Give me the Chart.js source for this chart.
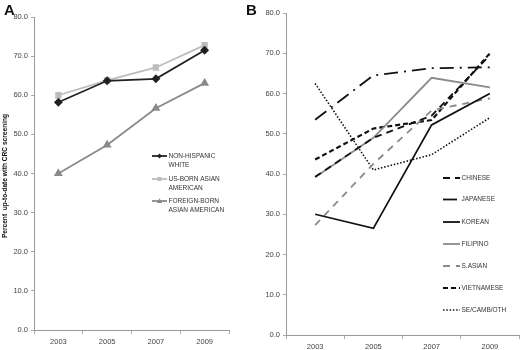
<!DOCTYPE html>
<html><head><meta charset="utf-8">
<script src="https://cdn.jsdelivr.net/npm/chart.js@4.4.0/dist/chart.umd.min.js"></script>
<style>
html,body{margin:0;padding:0;background:#fff;width:520px;height:350px;overflow:hidden;}
.wrap{position:absolute;top:0;height:350px;}
.lbl{position:absolute;font-family:"Liberation Sans",Arial,sans-serif;font-weight:bold;font-size:15px;color:#111;}
</style></head><body>
<div class="wrap" style="left:0;width:260px"><canvas id="ca"></canvas></div>
<div class="wrap" style="left:260px;width:260px"><canvas id="cb"></canvas></div>
<div class="lbl" style="left:4px;top:1px">A</div>
<div class="lbl" style="left:246px;top:1px">B</div>
<script>
const years = ['2003','2005','2007','2009'];
const yTicksMin = 0, yTicksMax = 80, yStep = 10;

// Panel A
const nhWhite     = [58.2, 63.7, 64.2, 71.5];
const usBornAsian = [60.0, 63.8, 67.1, 72.8];
const fbAsian     = [40.0, 47.3, 56.7, 63.1];

// Panel B
const chinese    = [39.3, 49.0, 54.5, 69.5];
const japanese   = [53.5, 64.5, 66.3, 66.5];
const korean     = [30.0, 26.5, 52.2, 60.0];
const filipino   = [39.2, 49.0, 63.9, 61.5];
const sAsian     = [27.3, 42.5, 55.8, 58.8];
const vietnamese = [43.6, 51.3, 53.4, 70.0];
const seCamb     = [62.5, 41.0, 44.8, 54.0];

const FONT = '"Liberation Sans", Arial, sans-serif';

function legendPlugin(items){
  return {
    id:'customLegend',
    afterDraw(chart){
      const ctx = chart.ctx;
      ctx.save();
      items.forEach(it=>{
        const ds = chart.data.datasets[it.ds];
        ctx.strokeStyle = ds.borderColor;
        ctx.lineWidth = ds.borderWidth;
        ctx.setLineDash(ds.borderDash || []);
        ctx.beginPath();
        ctx.moveTo(it.x, it.y);
        ctx.lineTo(it.x + it.len, it.y);
        ctx.stroke();
        ctx.setLineDash([]);
        if (ds.pointStyle && ds.pointRadius > 0){
          ctx.fillStyle = ds.pointBackgroundColor;
          ctx.beginPath();
          const r = ds.pointRadius*0.8;
          const cx = it.x+it.len/2, cy = it.y;
          if (ds.pointStyle==='rectRot'){ctx.moveTo(cx,cy-r);ctx.lineTo(cx+r,cy);ctx.lineTo(cx,cy+r);ctx.lineTo(cx-r,cy);}
          else if (ds.pointStyle==='rect'){ctx.rect(cx-r*0.8,cy-r*0.8,r*1.6,r*1.6);}
          else if (ds.pointStyle==='triangle'){ctx.moveTo(cx,cy-r);ctx.lineTo(cx+r,cy+r*0.7);ctx.lineTo(cx-r,cy+r*0.7);}
          ctx.closePath(); ctx.fill();
        }
        ctx.fillStyle = '#333';
        ctx.font = it.font || ('6.5px ' + FONT);
        ctx.textBaseline = 'middle';
        ctx.textAlign = 'left';
        it.text.forEach((t,i)=>ctx.fillText(t, it.x + it.len + 1.5, it.y + i*9.5));
      });
      ctx.restore();
    }
  };
}

function yTitlePlugin(text, x, y){
  return {
    id:'yTitle',
    afterDraw(chart){
      const ctx = chart.ctx;
      ctx.save();
      ctx.translate(x, y);
      ctx.rotate(-Math.PI/2);
      ctx.font = 'bold 6.6px ' + FONT;
      ctx.fillStyle = '#111';
      ctx.textAlign = 'center';
      ctx.textBaseline = 'middle';
      ctx.fillText(text, 0, 0);
      ctx.restore();
    }
  };
}

function scales(yWidth, xHeight){
  return {
    x: {
      type:'category', offset:true,
      grid:{display:true, drawOnChartArea:false, drawTicks:true, tickLength:4, color:'#aaa', offset:true},
      border:{display:true, color:'#999', width:1},
      ticks:{font:{size:7.5, family:FONT}, color:'#444', padding:3, maxRotation:0},
      afterFit(s){ s.height = xHeight; }
    },
    y: {
      min:yTicksMin, max:yTicksMax,
      grid:{display:true, drawOnChartArea:false, drawTicks:true, tickLength:3, color:'#aaa'},
      border:{display:true, color:'#999', width:1},
      ticks:{stepSize:yStep, font:{size:7.5, family:FONT}, color:'#444', padding:3,
        callback:v=>Number(v).toFixed(1)},
      afterFit(s){ s.width = yWidth; }
    }
  };
}

const common = {
  responsive:false, animation:false, maintainAspectRatio:false,
  plugins:{legend:{display:false}, tooltip:{enabled:false}},
  elements:{line:{tension:0}}
};

function ds(label, data, color, width, dash, pstyle, prad){
  return {label, data, borderColor:color, borderWidth:width, borderDash:dash||[],
    pointStyle:pstyle||false, pointRadius:prad||0, pointBackgroundColor:color, pointBorderColor:color,
    fill:false};
}

const ca = document.getElementById('ca');
ca.width = 260; ca.height = 350;
new Chart(ca, {
  type:'line',
  data:{labels:years, datasets:[
    ds('NON-HISPANIC WHITE', nhWhite, '#222', 1.8, [], 'rectRot', 3.2),
    ds('US-BORN ASIAN AMERICAN', usBornAsian, '#bdbdbd', 1.8, [], 'rect', 3.2),
    ds('FOREIGN-BORN ASIAN AMERICAN', fbAsian, '#8a8a8a', 1.8, [], 'triangle', 3.4)
  ]},
  options:Object.assign({}, common, {
    layout:{padding:{left:0, right:31, top:17, bottom:2}},
    scales:scales(34, 18)
  }),
  plugins:[
    legendPlugin([
      {ds:0, x:152, y:156, len:15, text:['NON-HISPANIC','WHITE']},
      {ds:1, x:152, y:179, len:15, text:['US-BORN ASIAN','AMERICAN']},
      {ds:2, x:152, y:201, len:15, text:['FOREIGN-BORN','ASIAN AMERICAN']}
    ]),
    yTitlePlugin('Percent  up-to-date with CRC screening', 5, 176)
  ]
});

const cb = document.getElementById('cb');
cb.width = 260; cb.height = 350;
new Chart(cb, {
  type:'line',
  data:{labels:years, datasets:[
    ds('CHINESE', chinese, '#111', 1.8, [7,5]),
    ds('JAPANESE', japanese, '#111', 1.8, [14,6,2,6]),
    ds('KOREAN', korean, '#111', 1.8, []),
    ds('FILIPINO', filipino, '#8a8a8a', 1.8, []),
    ds('S.ASIAN', sAsian, '#8a8a8a', 1.8, [7,6]),
    ds('VIETNAMESE', vietnamese, '#111', 2.2, [5,3]),
    ds('SE/CAMB/OTH', seCamb, '#111', 1.6, [1.5,1.8])
  ]},
  options:Object.assign({}, common, {
    layout:{padding:{left:0, right:1, top:13, bottom:0}},
    scales:scales(26, 15)
  }),
  plugins:[
    legendPlugin([
      {ds:0, x:183, y:178, len:17, text:['CHINESE']},
      {ds:1, x:183, y:199.5, len:17, text:['JAPANESE']},
      {ds:2, x:183, y:222, len:17, text:['KOREAN']},
      {ds:3, x:183, y:244, len:17, text:['FILIPINO']},
      {ds:4, x:183, y:266, len:17, text:['S.ASIAN']},
      {ds:5, x:183, y:288, len:17, text:['VIETNAMESE']},
      {ds:6, x:183, y:310, len:17, text:['SE/CAMB/OTH']}
    ])
  ]
});
</script>
</body></html>
